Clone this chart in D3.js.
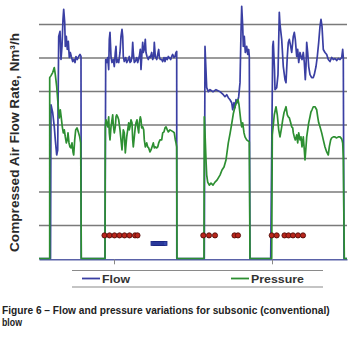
<!DOCTYPE html>
<html><head><meta charset="utf-8">
<script src="https://cdn.jsdelivr.net/npm/d3@7"></script>
<style>
html,body{margin:0;padding:0;background:#fff;}
svg{display:block;}
</style></head>
<body>
<svg id="chart" width="362" height="337"></svg>
<script>
// ---- data (time in s, flow in Nm3/h, pressure scaled to same axis) ----
const flowData = [
[0,0],[11.5,0],[12,459],[13.7,435],[15.3,393],[16.3,354],[17.7,309],[18.7,324],[19.7,663],[21,678],[22,594],[23,633],[24,714],[24.7,744],[25.7,705],[26.3,633],[27.3,663],[28.3,624],[29.3,648],[30.3,600],[31.3,615],[32.3,603],[33.7,588],[35,594],[36,585],[37,603],[38.3,594],[39.7,603],[41,609],[42,603],[42.2,0],
[66,0],[66.7,594],[67.7,585],[68.7,600],[69.7,564],[70.3,654],[71,675],[72,603],[73,585],[74.3,594],[75.3,573],[76.3,615],[77,633],[77.7,585],[78.7,594],[79.7,585],[81,615],[82,663],[83,684],[83.7,663],[84.3,603],[85.3,588],[86.7,600],[87.7,585],[89.3,594],[90.3,603],[91,585],[92,588],[93,603],[93.7,645],[94.3,615],[95.3,585],[96.3,588],[97.7,600],[98.7,585],[100.3,603],[101.3,624],[102,564],[103,615],[103.7,645],[104.3,615],[105.3,624],[106.3,654],[107,615],[108,603],[109.3,594],[110.3,603],[111.3,600],[112.7,615],[113.7,594],[114.7,603],[115.3,645],[116.3,603],[117.7,594],[118.7,609],[119.7,624],[120.3,603],[121.3,594],[122.7,594],[123.7,588],[125,600],[126,588],[127,600],[128.3,594],[129.3,603],[130.3,600],[131.7,594],[132.7,603],[133.7,609],[135,600],[136,603],[137,615],[137.7,618],[137.8,0],
[165.3,0],[166,633],[167.7,510],[169.3,498],[171,504],[174,498],[177,504],[181,498],[184.3,489],[186,483],[187.7,489],[189.3,480],[191,474],[192.7,465],[193.7,444],[195,465],[196,450],[197,474],[198.3,465],[199.7,483],[201,525],[202,675],[202.7,753],[203.7,693],[204.3,633],[205.3,663],[206.3,615],[207.7,633],[208.7,609],[209.7,624],[210.3,603],[211,0],
[231.7,0],[233.7,633],[234.3,648],[235.5,564],[236,504],[237.7,510],[239,549],[240.3,735],[241,699],[242.7,654],[244.3,573],[246,534],[247,525],[248.3,603],[249.3,645],[250.3,654],[251.7,633],[252.7,615],[253.7,645],[254.3,663],[255.3,675],[256.3,654],[257.7,603],[258.7,624],[259.7,585],[261,615],[262,603],[263,594],[264.3,615],[265.3,585],[266.3,534],[267,573],[267.7,645],[268.7,615],[269.7,573],[271,549],[272.7,540],[274.3,540],[275.3,549],[277,573],[278.3,603],[279.7,645],[281,693],[282,714],[283,693],[284.3,624],[286,615],[287.7,609],[289.3,594],[291,588],[292.7,600],[294.3,594],[296,597],[297.7,591],[299.3,597],[301,594],[302.7,600],[303.7,624],[304.3,600],[305,0],[308,0]
];
const pressureData = [
[0,0],[10.7,0],[10.7,540],[12,546],[13.7,555],[15.3,570],[16.3,549],[17.7,513],[18.7,474],[19.7,435],[20.3,420],[21.3,444],[22.3,420],[23.3,393],[24.3,375],[25.3,384],[26.3,363],[27.3,345],[28.3,354],[29,375],[30,345],[31,333],[32,330],[33,345],[34,318],[34.7,309],[35.7,354],[36.7,384],[38,390],[39.3,378],[40.7,363],[41.7,345],[42.3,0],
[66,0],[66.3,393],[67,414],[67.7,405],[68.7,393],[69.7,423],[70.3,375],[71,354],[72,393],[73,414],[73.7,429],[74.3,399],[75.3,375],[76.3,393],[77,423],[77.7,429],[78.7,423],[79.7,414],[81,384],[82,354],[83,324],[83.7,354],[84.3,384],[85.3,375],[86.3,315],[87.7,363],[88.7,384],[89.7,405],[90.3,384],[91,393],[92,414],[93,405],[93.7,354],[94.3,333],[95.3,363],[96.3,393],[97,405],[98,414],[98.7,393],[99.7,375],[100.3,405],[101.3,423],[102,414],[102.7,390],[103.7,393],[104.7,384],[105.3,354],[106.3,333],[107.7,345],[108.7,333],[109.7,330],[111,318],[112,324],[113,333],[114.3,345],[115.3,330],[116.3,333],[117.7,330],[118.7,333],[119.7,345],[121,354],[122.7,354],[123.7,375],[125,378],[126,390],[127,393],[128.3,384],[129.3,378],[131,384],[132.7,381],[134.3,378],[135.3,375],[136.3,354],[137,345],[137.7,333],[138,0],
[165,0],[165.3,423],[166,375],[167,294],[167.7,249],[168.7,228],[170.3,219],[172,225],[174,219],[176,228],[178,234],[181,249],[183,264],[185,273],[187,294],[189.3,345],[191,372],[192.7,402],[194.3,432],[196,453],[197.7,468],[199,474],[200,459],[201.7,414],[202.7,393],[203.7,405],[205,375],[206,363],[207.7,354],[209,351],[210.3,348],[211,0],
[232.7,0],[233.3,369],[234.3,399],[235.3,429],[237,453],[238.3,429],[239.7,384],[241,363],[242.7,393],[243.7,414],[245,435],[246,444],[247,453],[248.3,429],[249.3,423],[250.3,420],[251.7,405],[252.7,393],[253.7,390],[254.3,375],[255.3,363],[256.3,354],[257.7,369],[258.7,345],[259.7,375],[261,354],[262,363],[263,333],[264.3,363],[265.3,324],[266,294],[267,333],[267.7,363],[268.7,384],[269.7,405],[271,423],[272,438],[273,444],[274.3,453],[276,453],[277.7,444],[278.7,423],[279.7,405],[281,393],[282.7,375],[284.3,354],[286,333],[287.7,318],[289.3,309],[290.3,333],[291.7,354],[292.7,360],[294.3,363],[296,363],[297.7,360],[299.3,363],[301,363],[302.7,357],[303.7,345],[304.3,303],[305.3,0],[308,0]
];
const redDotTimes = [65.5,70.5,75.5,80.5,85.5,90.5,96,98.5,164.3,170,176,195.5,199,232.7,237.7,245.5,249.5,254,259,264];
const redDotLevel = 69;
const blueMarkTimes = [114,116,118,120,122,124,126];
const blueMarkLevel = 45;
const gridValues = [100,200,300,400,500,600,700];
const xTickValues = [75,233];
const seriesNames = ["Flow","Pressure"];
const yTitle = "Compressed Air Flow Rate, Nm\u00B3/h";
const captionLines = ["Figure 6 \u2013 Flow and pressure variations for subsonic (conventional)","blow"];

// ---- drawing ----
const svg = d3.select("#chart");
const x = d3.scaleLinear().domain([0,308]).range([39,347]);
const y = d3.scaleLinear().domain([0,700]).range([258.5,24]);
const blue = "#3a3fa3", green = "#2d8f32";

// gridlines
const grid = svg.append("g").attr("transform","translate(39,0)")
  .call(d3.axisLeft(y).tickValues(gridValues).tickSize(-308).tickFormat(""));
grid.select(".domain").remove();
grid.selectAll(".tick line").attr("stroke","#7a7a7a").attr("stroke-width",1.4);

// x axis
const xa = svg.append("g").attr("transform","translate(0,"+(y(0)+0.8)+")")
  .call(d3.axisBottom(x).tickValues(xTickValues).tickSize(5).tickSizeOuter(0).tickFormat(""));
xa.select(".domain").attr("stroke","#5a62a8").attr("stroke-width",1.6);
xa.selectAll(".tick line").attr("stroke","#888").attr("stroke-width",1);

const line = d3.line().x(d=>x(d[0])).y(d=>y(d[1]));
svg.append("path").datum(flowData).attr("d",line).attr("fill","none")
  .attr("stroke",blue).attr("stroke-width",1.7).attr("stroke-linejoin","round");
svg.append("path").datum(pressureData).attr("d",line).attr("fill","none")
  .attr("stroke",green).attr("stroke-width",1.7).attr("stroke-linejoin","round");

// markers
svg.append("g").selectAll("rect").data(blueMarkTimes).join("rect")
  .attr("x",d=>x(d)-2).attr("y",y(blueMarkLevel)-2).attr("width",4).attr("height",4)
  .attr("fill","#3548b0").attr("stroke","#1a237e").attr("stroke-width",0.8);
svg.append("g").selectAll("circle").data(redDotTimes).join("circle")
  .attr("cx",d=>x(d)).attr("cy",y(redDotLevel)).attr("r",2.6)
  .attr("fill","#b8261c").attr("stroke","#4a0a06").attr("stroke-width",0.8);

// y title
svg.append("text").attr("transform","translate(19,142.5) rotate(-90)")
  .attr("text-anchor","middle").attr("font-family","'Liberation Sans', Arial, sans-serif")
  .attr("font-weight","bold").attr("font-size",13).attr("fill","#2a2a2a")
  .attr("textLength",219).attr("lengthAdjust","spacingAndGlyphs").text(yTitle);

// legend
svg.append("line").attr("x1",72).attr("x2",323).attr("y1",270.5).attr("y2",270.5).attr("stroke","#8a8a8a").attr("stroke-width",1.2);
svg.append("line").attr("x1",72).attr("x2",323).attr("y1",287).attr("y2",287).attr("stroke","#8a8a8a").attr("stroke-width",1.2);
const legendItems = [{name:seriesNames[0],color:blue,x0:82,len:28},{name:seriesNames[1],color:green,x0:231,len:53}];
legendItems.forEach(it=>{
  svg.append("line").attr("x1",it.x0).attr("x2",it.x0+18).attr("y1",278.5).attr("y2",278.5)
    .attr("stroke",it.color).attr("stroke-width",1.8);
  svg.append("text").attr("x",it.x0+20).attr("y",282.5).attr("font-family","'Liberation Sans', Arial, sans-serif")
    .attr("font-weight","bold").attr("font-size",11).attr("fill","#333")
    .attr("textLength",it.len).attr("lengthAdjust","spacingAndGlyphs").text(it.name);
});

// caption (condensed by horizontal scaling)
const capTargets = [328, 20];
const capBase = [314, 325.5];
captionLines.forEach((s,i)=>{
  const t = svg.append("text").attr("x",0).attr("y",0)
    .attr("font-family","'Liberation Sans', Arial, sans-serif")
    .attr("font-weight","bold").attr("font-size",10.5).attr("fill","#222").text(s);
  const w = t.node().getComputedTextLength();
  t.attr("transform","translate(2,"+capBase[i]+") scale("+(capTargets[i]/w)+",1)");
});
</script>
</body></html>
